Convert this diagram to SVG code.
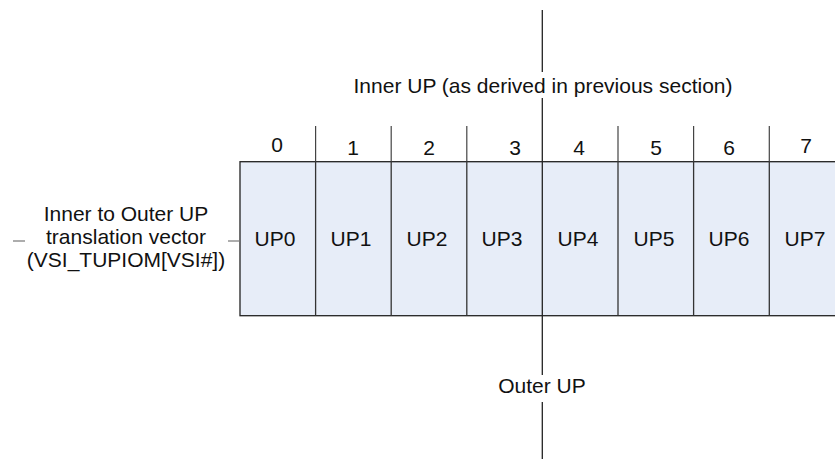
<svg xmlns="http://www.w3.org/2000/svg" width="835" height="460" viewBox="0 0 835 460">
<style>
text{font-family:"Liberation Sans",Arial,sans-serif;font-size:21px;fill:#111;text-anchor:middle}
.cell{fill:#E7EDF8;stroke:#222;stroke-width:1.3}
.div{stroke:#333;stroke-width:1.3}
.tick{stroke:#444;stroke-width:1.2}
.axis{stroke:#222;stroke-width:1.3}
.dash{stroke:#777;stroke-width:1.2}
</style>
<rect width="835" height="460" fill="#fff"/>
<g id="table">
<rect class="cell" x="240" y="161.7" width="610" height="154"/>
</g>
<g id="connectors">
<line class="axis" x1="542.3" y1="10" x2="542.3" y2="72"/>
<line class="axis" x1="542.3" y1="98" x2="542.3" y2="375"/>
<line class="axis" x1="542.3" y1="402" x2="542.3" y2="459"/>
<line class="dash" x1="13" y1="241" x2="25" y2="241"/>
<line class="dash" x1="228" y1="241" x2="240" y2="241"/>
<line class="tick" x1="315.6" y1="126" x2="315.6" y2="161.7"/>
<line class="tick" x1="391.2" y1="126" x2="391.2" y2="161.7"/>
<line class="tick" x1="466.8" y1="126" x2="466.8" y2="161.7"/>
<line class="tick" x1="618" y1="126" x2="618" y2="161.7"/>
<line class="tick" x1="693.6" y1="126" x2="693.6" y2="161.7"/>
<line class="tick" x1="769.3" y1="126" x2="769.3" y2="161.7"/>
<line class="div" x1="315.6" y1="161.7" x2="315.6" y2="315.7"/>
<line class="div" x1="391.2" y1="161.7" x2="391.2" y2="315.7"/>
<line class="div" x1="466.8" y1="161.7" x2="466.8" y2="315.7"/>
<line class="div" x1="618" y1="161.7" x2="618" y2="315.7"/>
<line class="div" x1="693.6" y1="161.7" x2="693.6" y2="315.7"/>
<line class="div" x1="769.3" y1="161.7" x2="769.3" y2="315.7"/>
</g>
<g id="cells">
<text x="275" y="246">UP0</text>
<text x="351" y="246">UP1</text>
<text x="427" y="246">UP2</text>
<text x="502" y="246">UP3</text>
<text x="578" y="246">UP4</text>
<text x="654" y="246">UP5</text>
<text x="729" y="246">UP6</text>
<text x="805" y="246">UP7</text>
</g>
<g id="indices">
<text x="277" y="152">0</text>
<text x="353" y="155">1</text>
<text x="429" y="155">2</text>
<text x="515" y="155">3</text>
<text x="579" y="155">4</text>
<text x="656" y="155">5</text>
<text x="729" y="155">6</text>
<text x="806" y="153">7</text>
</g>
<g id="inner-label">
<text x="543" y="93">Inner UP (as derived in previous section)</text>
</g>
<g id="outer-label">
<text x="542" y="393">Outer UP</text>
</g>
<g id="vector-label">
<text x="126" y="221">Inner to Outer UP</text>
<text x="126" y="244">translation vector</text>
<text x="126" y="267">(VSI_TUPIOM[VSI#])</text>
</g>
</svg>
